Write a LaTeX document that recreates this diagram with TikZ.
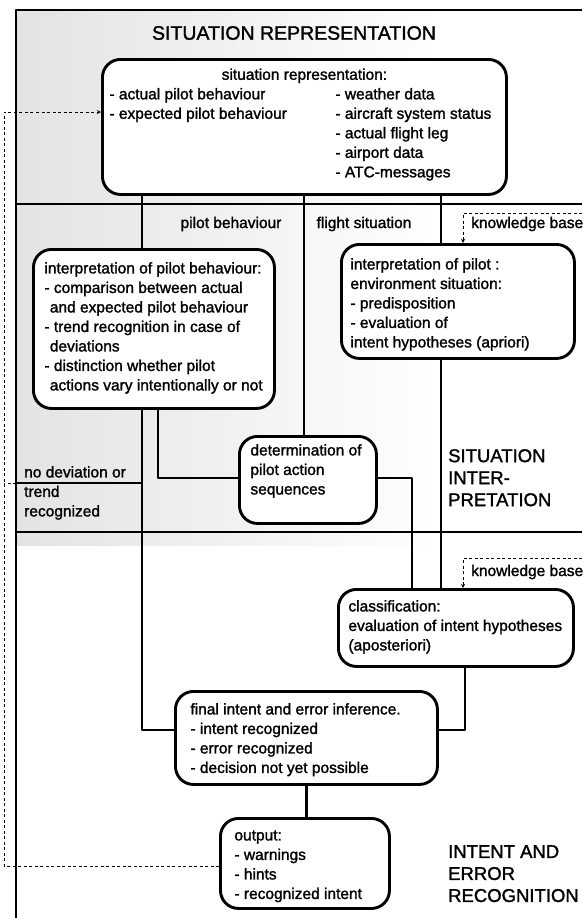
\documentclass[tikz,border=0pt]{standalone}
\usepackage{fontspec}
\setmainfont{Liberation Sans}[FakeBold=1.5]
\newcommand{\boxtext}[3]{\parbox[c][#2][t]{#1}{\raggedright\strut #3}}
\tikzset{
  procbox/.style={draw, line width=2.9pt, rounded corners=18pt, fill=white, anchor=north west},
  conn/.style={line width=2.7pt},
  frame/.style={line width=2.3pt},
  fb/.style={line width=0.9pt, dash pattern=on 3pt off 2.5pt},
  sectitle/.style={font=\fontsize{18.5}{22}\selectfont, inner sep=0pt, align=left},
  lbl/.style={inner sep=0pt}
}
\begin{document}
\begin{tikzpicture}[x=1pt, y=-1pt, font=\fontsize{15.5}{19.5}\selectfont, line join=round, >=stealth]
\useasboundingbox (0,0) rectangle (582,918);
\shade[left color=black!11, right color=white] (16,10) rectangle (440,545);
\path
  (4,0) coordinate (colL)
  (16,0) coordinate (brd)
  (142,0) coordinate (colA)
  (158,0) coordinate (colB)
  (304,0) coordinate (colC)
  (412,0) coordinate (colE)
  (441,0) coordinate (colD)
  (463,0) coordinate (colK)
  (465,0) coordinate (colF)
  (0,112) coordinate (rowD)
  (0,478) coordinate (rowA)
  (0,483) coordinate (rowE)
  (0,730) coordinate (rowB)
  (0,866) coordinate (rowC)
  (582,213) coordinate (kbA)
  (582,558) coordinate (kbB)
  ;
% frame and section lines
\draw[frame] (582,10) -- (16,10) -- (16,918);
\draw[frame] (16,204) -- (582,204);
\draw[frame] (16,532) -- (582,532);

% boxes
\node[procbox, inner xsep=7pt, inner ysep=6.7pt] (sitrep) at (101,58) {\parbox[c][121.6pt][t]{390pt}{\centering\strut situation representation:\par\raggedright
  \begin{tabular}[t]{@{}p{226pt}@{}l@{}}
  - actual pilot behaviour & - weather data\\
  - expected pilot behaviour & - aircraft system status\\
  & - actual flight leg\\
  & - airport data\\
  & - ATC-messages
  \end{tabular}}};
\node[procbox, inner xsep=11pt, inner ysep=10.35pt] (pilotint) at (32,248) {\boxtext{219pt}{138.3pt}{interpretation of pilot behaviour:\\
  - comparison between actual\\ \hspace*{0.35em}and expected pilot behaviour\\
  - trend recognition in case of\\ \hspace*{0.35em}deviations\\
  - distinction whether pilot\\ \hspace*{0.35em}actions vary intentionally or not}};
\node[procbox, inner xsep=9pt, inner ysep=11.35pt] (envint) at (340,243) {\boxtext{215pt}{91.3pt}{interpretation of pilot :\\
  environment situation:\\ - predisposition\\ - evaluation of\\ intent hypotheses (apriori)}};
\node[procbox, inner xsep=11pt, inner ysep=5.35pt] (detbox) at (238,435) {\boxtext{115pt}{76.3pt}{determination of\\ pilot action\\ sequences}};
\node[procbox, inner xsep=10pt, inner ysep=8.35pt] (classif) at (337,588) {\boxtext{215pt}{60.3pt}{classification:\\ evaluation of intent hypotheses\\ (aposteriori)}};
\node[procbox, inner xsep=15pt, inner ysep=9.35pt] (final) at (174,690) {\boxtext{232pt}{74.3pt}{final intent and error inference.\\
  - intent recognized\\ - error recognized\\ - decision not yet possible}};
\node[procbox, inner xsep=14pt, inner ysep=8.35pt] (output) at (219,817) {\boxtext{141pt}{73.3pt}{output:\\ - warnings\\ - hints\\ - recognized intent}};

% labels
\node[sectitle, font=\fontsize{19.5}{22}\selectfont] (title) at (294,33) {SITUATION REPRESENTATION};
\node[lbl] (pilotlbl) at (231,224) {pilot behaviour};
\node[lbl] (flightlbl) at (364,224) {flight situation};
\node[lbl, anchor=west] (kbtextA) at (471,224) {knowledge base};
\node[lbl, anchor=west] (kbtextB) at (471,572) {knowledge base};
\node[lbl, anchor=north west, align=left] (nodev) at (24,466) {no deviation or\\ trend\\ recognized};
\node[sectitle, anchor=north west] (sitint) at (448,449) {SITUATION\\ INTER-\\ PRETATION};
\node[sectitle, anchor=north west] (interr) at (448,845) {INTENT AND\\ ERROR\\ RECOGNITION};

% connections
\draw[conn] (colA |- sitrep.south) -- (colA |- pilotint.north);
\draw[conn] (colC |- sitrep.south) -- (colC |- detbox.north);
\draw[conn] (colD |- sitrep.south) -- (colD |- envint.north);
\draw[conn] (colD |- envint.south) -- (colD |- classif.north);
\draw[conn] (colB |- pilotint.south) -- (colB |- rowA) -- (detbox.west |- rowA);
\draw[conn] (detbox.east |- rowA) -| (colE |- classif.north);
\draw[conn] (colA |- pilotint.south) |- (final.west |- rowB);
\draw[conn] (colF |- classif.south) |- (final.east |- rowB);
\draw[conn] (final.south) -- (final.south |- output.north);
\draw[conn] (colA |- rowE) -- (brd |- rowE);

% knowledge base and feedback
\draw[fb,->] (kbA) -| (colK |- envint.north);
\draw[fb,->] (kbB) -| (colK |- classif.north);
\draw[fb] (brd |- rowE) -- (colL |- rowE);
\draw[fb,->] (output.west |- rowC) -- (colL |- rowC) -- (colL |- rowD) -- (sitrep.west |- rowD);
\end{tikzpicture}
\end{document}
